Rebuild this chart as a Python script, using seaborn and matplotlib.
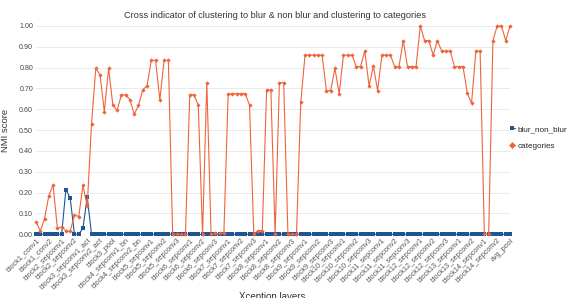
import numpy as np
import pandas as pd
import matplotlib.pyplot as plt
import seaborn as sns

# tick labels shown every 3rd layer
LAYER_LABELS = [
    "block1_conv1", "block1_conv2", "block2_sepconv1", "block2_sepconv2",
    "block3_sepconv1_act", "block3_sepconv2_act", "block3_pool",
    "block4_sepconv1_bn", "block4_sepconv2_bn",
    "block5_sepconv1", "block5_sepconv2", "block5_sepconv3",
    "block6_sepconv1", "block6_sepconv2", "block6_sepconv3",
    "block7_sepconv1", "block7_sepconv2", "block7_sepconv3",
    "block8_sepconv1", "block8_sepconv2", "block8_sepconv3",
    "block9_sepconv1", "block9_sepconv2", "block9_sepconv3",
    "block10_sepconv1", "block10_sepconv2", "block10_sepconv3",
    "block11_sepconv1", "block11_sepconv2", "block11_sepconv3",
    "block12_sepconv1", "block12_sepconv2", "block12_sepconv3",
    "block13_sepconv1", "block13_sepconv2",
    "block14_sepconv1", "block14_sepconv2", "avg_pool",
]

BLUR_NON_BLUR = [
    0.0, 0.0, 0.0, 0.0, 0.0, 0.0, 0.0, 0.215, 0.175, 0.0, 0.0, 0.03, 0.18, 0.0, 0.0, 0.0,
    0.0, 0.0, 0.0, 0.0, 0.0, 0.0, 0.0, 0.0, 0.0, 0.0, 0.0, 0.0, 0.0, 0.0, 0.0, 0.0,
    0.0, 0.0, 0.0, 0.0, 0.0, 0.0, 0.0, 0.0, 0.0, 0.0, 0.0, 0.0, 0.0, 0.0, 0.0, 0.0,
    0.0, 0.0, 0.0, 0.0, 0.0, 0.0, 0.0, 0.0, 0.0, 0.0, 0.0, 0.0, 0.0, 0.0, 0.0, 0.0,
    0.0, 0.0, 0.0, 0.0, 0.0, 0.0, 0.0, 0.0, 0.0, 0.0, 0.0, 0.0, 0.0, 0.0, 0.0, 0.0,
    0.0, 0.0, 0.0, 0.0, 0.0, 0.0, 0.0, 0.0, 0.0, 0.0, 0.0, 0.0, 0.0, 0.0, 0.0, 0.0,
    0.0, 0.0, 0.0, 0.0, 0.0, 0.0, 0.0, 0.0, 0.0, 0.0, 0.0, 0.0, 0.0, 0.0, 0.0, 0.0,
]

CATEGORIES = [
    0.06, 0.016, 0.075, 0.185, 0.237, 0.03, 0.035, 0.018, 0.014, 0.093, 0.085, 0.235,
    0.136, 0.53, 0.797, 0.766, 0.589, 0.797, 0.619, 0.595, 0.67, 0.67, 0.646, 0.576,
    0.619, 0.693, 0.714, 0.835, 0.835, 0.645, 0.835, 0.835, 0.0, 0.0, 0.0, 0.0,
    0.67, 0.67, 0.62, 0.0, 0.728, 0.0, 0.005, 0.005, 0.005, 0.675, 0.675, 0.675,
    0.675, 0.675, 0.62, 0.0, 0.018, 0.018, 0.693, 0.693, 0.0, 0.728, 0.728, 0.0,
    0.0, 0.0, 0.634, 0.86, 0.86, 0.86, 0.86, 0.86, 0.69, 0.69, 0.797, 0.675,
    0.86, 0.86, 0.86, 0.805, 0.805, 0.88, 0.712, 0.808, 0.69, 0.86, 0.86, 0.86,
    0.805, 0.805, 0.93, 0.805, 0.805, 0.805, 1.0, 0.93, 0.93, 0.86, 0.93, 0.88,
    0.88, 0.88, 0.805, 0.805, 0.805, 0.677, 0.629, 0.88, 0.88, 0.0, 0.0, 0.93,
    1.0, 1.0, 0.93, 1.0,
]

BLUE = "#1f5594"
ORANGE = "#f0643c"

sns.set_theme(style="whitegrid")
plt.rcParams["font.family"] = ["Liberation Sans", "DejaVu Sans"]

n = len(CATEGORIES)
layer_idx = np.arange(n)
df = pd.concat([
    pd.DataFrame({"layer": layer_idx, "score": BLUR_NON_BLUR, "series": "blur_non_blur"}),
    pd.DataFrame({"layer": layer_idx, "score": CATEGORIES, "series": "categories"}),
])

fig = plt.figure(figsize=(5.78, 2.98), dpi=100)
ax = fig.add_axes([36 / 578, 1 - 234.3 / 298, 474 / 578, 208.3 / 298])

sns.lineplot(
    data=df, x="layer", y="score", hue="series", style="series",
    palette={"blur_non_blur": BLUE, "categories": ORANGE},
    markers={"blur_non_blur": "s", "categories": "D"},
    dashes=False, linewidth=0.8, markersize=2.2, markeredgewidth=0,
    ax=ax, legend=True, clip_on=False,
)

ax.set_xlim(0, n - 1)
ax.set_ylim(0, 1)
ax.set_yticks(np.arange(0, 1.01, 0.1))
ax.set_yticklabels([f"{v:.2f}" for v in np.arange(0, 1.01, 0.1)], fontsize=5.1, color="#444444")
ax.set_xticks(layer_idx[::3])
ax.set_xticklabels(LAYER_LABELS, rotation=45, ha="right", rotation_mode="anchor",
                   fontsize=5.2, color="#555555")
ax.tick_params(axis="both", length=0, pad=2)
ax.grid(axis="x", visible=False)
ax.grid(axis="y", color="#e6e6e6", linewidth=0.6)
for s in ax.spines.values():
    s.set_visible(False)

ax.set_ylabel("NMI score", fontsize=6.8, color="#333333")
ax.yaxis.set_label_coords(-0.055, 0.5)
# the axis title sits partly below the figure edge, as in the source picture
ax.set_xlabel("Xception layers", fontsize=7, color="#333333")
ax.xaxis.set_label_coords(0.498, -0.275)
ax.set_title("Cross indicator of clustering to blur & non blur and clustering to categories",
             fontsize=6.6, color="#333333", pad=6)
ax.title.set_position((0.505, 1.0))

handles, labels = ax.get_legend_handles_labels()
ax.get_legend().remove()
fig.legend(handles, labels, loc="center left", bbox_to_anchor=(510 / 578, 1 - 137.7 / 298),
           frameon=False, fontsize=5.9, handlelength=0.6, handletextpad=0.3,
           labelspacing=1.1, borderpad=0, borderaxespad=0, markerscale=1.6)

fig.savefig("out.png", dpi=100)
